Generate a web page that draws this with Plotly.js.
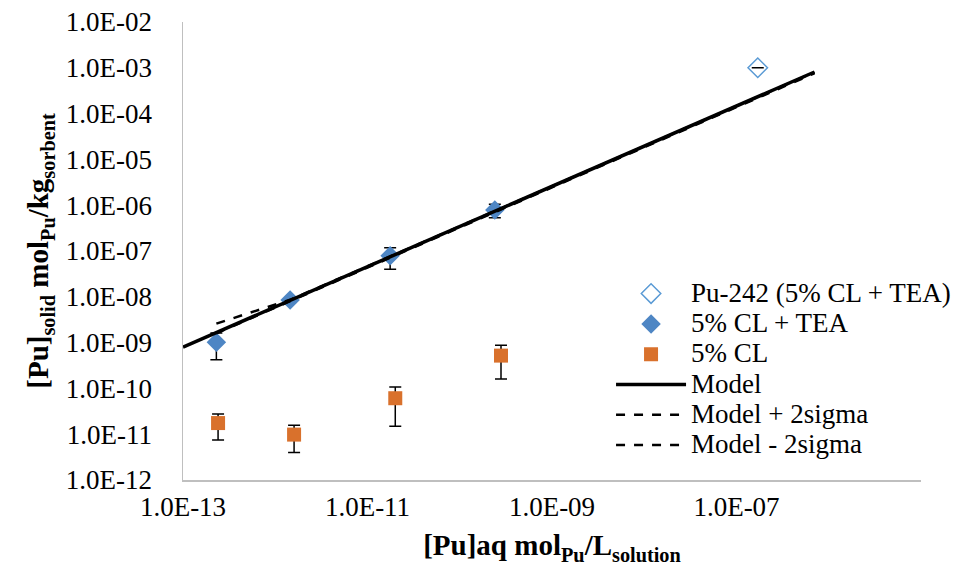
<!DOCTYPE html>
<html>
<head>
<meta charset="utf-8">
<script src="https://cdn.plot.ly/plotly-3.0.1.min.js"></script>
<style>html,body{margin:0;padding:0;background:#fff;}#chart{width:977px;height:576px;}</style>
</head>
<body>
<div id="chart"></div>
<script>
// Pu-242 (5% CL + TEA)
const pu242X = [1.7e-7];
const pu242Y = [1.0e-3];
const pu242Err = [2e-6];

// 5% CL + TEA
const teaX = [2.3e-13, 1.45e-12, 1.76e-11, 2.4e-10];
const teaY = [1.02e-9, 8.5e-9, 7.9e-8, 7.9e-7];
const teaErr = [0.6e-9, 1.0e-9, 3.9e-8, 2.6e-7];

// 5% CL
const clX = [2.4e-13, 1.6e-12, 2.0e-11, 2.8e-10];
const clY = [1.75e-11, 9.8e-12, 6.1e-11, 5.2e-10];
const clErr = [1.0e-11, 5.8e-12, 4.6e-11, 3.6e-10];

// Model lines
const modelX = [1e-13, 7e-7];
const modelY = [8.0e-10, 8.1e-4];
const sigX = [2.3e-13, 1.45e-12, 1.76e-11, 2.4e-10, 7e-7];
const plusY = [2.6e-9, 8.6e-9, 7.6e-8, 7.5e-7, 8.0e-4];
const minusY = [1.6e-9, 8.0e-9, 7.2e-8, 7.1e-7, 7.6e-4];

const seriesNames = ['Pu-242 (5% CL + TEA)', '5% CL + TEA', '5% CL', 'Model', 'Model + 2sigma', 'Model - 2sigma'];

const yTickVals = [1e-12,1e-11,1e-10,1e-9,1e-8,1e-7,1e-6,1e-5,1e-4,1e-3,1e-2];
const yTickText = ['1.0E-12','1.0E-11','1.0E-10','1.0E-09','1.0E-08','1.0E-07','1.0E-06','1.0E-05','1.0E-04','1.0E-03','1.0E-02'];
const xTickVals = [1e-13,1e-11,1e-9,1e-7];
const xTickText = ['1.0E-13','1.0E-11','1.0E-09','1.0E-07'];

const FONT = '"Liberation Serif", "Times New Roman", Times, serif';
const errStyle = {type:'data', visible:true, color:'#000', thickness:1.5, width:6};
const lg = s => '<span style="font-size:27px">' + s + '</span>';

const traces = [
  {x:pu242X, y:pu242Y, name:lg(seriesNames[0]), mode:'markers', type:'scatter',
   marker:{symbol:'diamond-open', size:15, color:'#5B9BD5', line:{width:1.5, color:'#5B9BD5'}},
   error_y:Object.assign({array:pu242Err}, errStyle)},
  {x:teaX, y:teaY, name:lg(seriesNames[1]), mode:'markers', type:'scatter',
   marker:{symbol:'diamond', size:15, color:'#4E86C4'},
   error_y:Object.assign({array:teaErr}, errStyle)},
  {x:clX, y:clY, name:lg(seriesNames[2]), mode:'markers', type:'scatter',
   marker:{symbol:'square', size:14, color:'#D9712C'},
   error_y:Object.assign({array:clErr}, errStyle)},
  {x:modelX, y:modelY, name:lg(seriesNames[3]), mode:'lines', type:'scatter',
   line:{color:'#000', width:3.5}},
  {x:sigX, y:plusY, name:lg(seriesNames[4]), mode:'lines', type:'scatter',
   line:{color:'#000', width:2.5, dash:'dash'}},
  {x:sigX, y:minusY, name:lg(seriesNames[5]), mode:'lines', type:'scatter',
   line:{color:'#000', width:2.5, dash:'dash'}}
];

const layout = {
  width:977, height:576,
  margin:{l:183, r:56, t:22, b:96},
  paper_bgcolor:'#fff', plot_bgcolor:'#fff',
  font:{family:FONT, size:24, color:'#000'},
  showlegend:true,
  legend:{x:0.58, y:0.451, xanchor:'left', yanchor:'top', bgcolor:'rgba(0,0,0,0)',
          font:{family:FONT, size:21, color:'#000'}, tracegroupgap:0, itemwidth:70},
  xaxis:{type:'log', range:[-13,-5], tickvals:xTickVals, ticktext:xTickText,
         showgrid:false, zeroline:false, showline:true, linecolor:'#BFBFBF', linewidth:1.5,
         ticks:'', tickfont:{family:FONT, size:27, color:'#000'}, ticklabelstandoff:2,
         title:{text:'<b>[Pu]aq mol<sub>Pu</sub>/L<sub>solution</sub></b>', font:{family:FONT, size:29, color:'#000'}, standoff:14}},
  yaxis:{type:'log', range:[-12,-2], tickvals:yTickVals, ticktext:yTickText,
         showgrid:false, zeroline:false, showline:true, linecolor:'#BFBFBF', linewidth:1.5,
         ticks:'', tickfont:{family:FONT, size:27, color:'#000'}, ticklabelstandoff:24,
         title:{text:'<b>[Pu]<sub>solid</sub> mol<sub>Pu</sub>/kg<sub>sorbent</sub></b>', font:{family:FONT, size:29, color:'#000'}, standoff:8}}
};

Plotly.newPlot('chart', traces, layout, {displayModeBar:false, staticPlot:true});
</script>
</body>
</html>
